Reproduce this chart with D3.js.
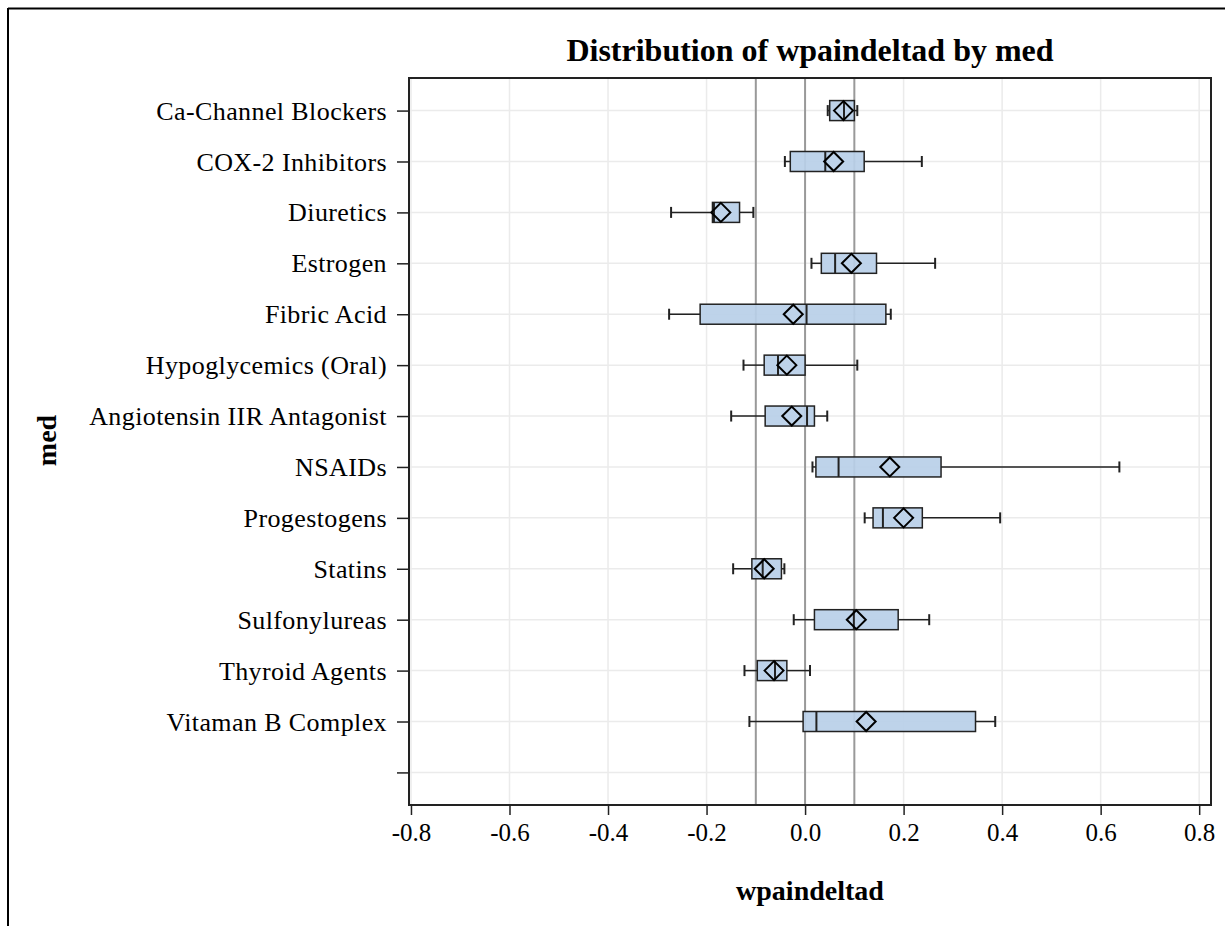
<!DOCTYPE html>
<html><head><meta charset="utf-8">
<script src="https://cdn.jsdelivr.net/npm/d3@7"></script>
<style>body{margin:0;background:#fff}</style>
</head><body>
<svg id="c" width="1225" height="926"></svg>
<script>
const categories = ["Ca-Channel Blockers","COX-2 Inhibitors","Diuretics","Estrogen","Fibric Acid","Hypoglycemics (Oral)","Angiotensin IIR Antagonist","NSAIDs","Progestogens","Statins","Sulfonylureas","Thyroid Agents","Vitaman B Complex",""];
const whiskerLow  = [0.046,-0.041,-0.272,0.013,-0.276,-0.125,-0.150,0.015,0.121,-0.146,-0.023,-0.123,-0.113];
const q1          = [0.050,-0.030,-0.188,0.033,-0.213,-0.083,-0.081,0.022,0.138,-0.108,0.019,-0.097,-0.004];
const median      = [0.079,0.041,-0.185,0.061,0.003,-0.055,0.004,0.068,0.158,-0.086,0.099,-0.061,0.023];
const q3          = [0.100,0.120,-0.133,0.145,0.164,0.000,0.019,0.276,0.238,-0.048,0.189,-0.037,0.346];
const whiskerHigh = [0.106,0.237,-0.105,0.264,0.174,0.106,0.045,0.638,0.396,-0.042,0.252,0.010,0.386];
const mean        = [0.078,0.058,-0.171,0.094,-0.024,-0.037,-0.027,0.172,0.200,-0.083,0.104,-0.063,0.124];
const xTicks = [-0.8,-0.6,-0.4,-0.2,0.0,0.2,0.4,0.6,0.8];
const xTickLabels = ["-0.8","-0.6","-0.4","-0.2","0.0","0.2","0.4","0.6","0.8"];
const refLines = [-0.1,0.0,0.1];

const svg = d3.select("#c");
const L=409, R=1211, T=78, B=805;
const x = d3.scaleLinear().domain([-0.804,0.824]).range([L,R]);
const y = d3.scalePoint().domain(categories.map((c,i)=>i)).range([T,B]).padding(0.64);

// outer frame (top + left)
svg.append("line").attr("x1",8).attr("x2",1225).attr("y1",8.5).attr("y2",8.5).attr("stroke","#000").attr("stroke-width",2);
svg.append("line").attr("x1",8).attr("x2",8).attr("y1",8).attr("y2",926).attr("stroke","#000").attr("stroke-width",2);

const serif = "'Liberation Serif','Times New Roman',serif";

// gridlines
svg.append("g").selectAll("line").data(xTicks).join("line")
  .attr("x1",d=>x(d)).attr("x2",d=>x(d)).attr("y1",T).attr("y2",B)
  .attr("stroke","#ebebeb").attr("stroke-width",1.5);
svg.append("g").selectAll("line").data(categories.map((c,i)=>i)).join("line")
  .attr("x1",L).attr("x2",R).attr("y1",d=>y(d)).attr("y2",d=>y(d))
  .attr("stroke","#ebebeb").attr("stroke-width",1.5);

// reference lines
svg.append("g").selectAll("line").data(refLines).join("line")
  .attr("x1",d=>x(d)).attr("x2",d=>x(d)).attr("y1",T).attr("y2",B)
  .attr("stroke","#999").attr("stroke-width",2);

// boxes
const idx = d3.range(whiskerLow.length);
const g = svg.append("g");
const bh = 20, ch = 11, dm = 9.5;
const ink = "#222";
idx.forEach(i=>{
  const cy = y(i);
  g.append("line").attr("x1",x(whiskerLow[i])).attr("x2",x(q1[i])).attr("y1",cy).attr("y2",cy).attr("stroke",ink).attr("stroke-width",1.5);
  g.append("line").attr("x1",x(q3[i])).attr("x2",x(whiskerHigh[i])).attr("y1",cy).attr("y2",cy).attr("stroke",ink).attr("stroke-width",1.5);
  [whiskerLow[i],whiskerHigh[i]].forEach(v=>{
    g.append("line").attr("x1",x(v)).attr("x2",x(v)).attr("y1",cy-ch/2).attr("y2",cy+ch/2).attr("stroke",ink).attr("stroke-width",2);
  });
  g.append("rect").attr("x",x(q1[i])).attr("y",cy-bh/2).attr("width",x(q3[i])-x(q1[i])).attr("height",bh)
    .attr("fill","#b8cfe8").attr("fill-opacity",0.92).attr("stroke",ink).attr("stroke-width",1.5);
  g.append("line").attr("x1",x(median[i])).attr("x2",x(median[i])).attr("y1",cy-bh/2).attr("y2",cy+bh/2).attr("stroke",ink).attr("stroke-width",2);
  const mx = x(mean[i]);
  g.append("path").attr("d",`M${mx-dm},${cy}L${mx},${cy-dm}L${mx+dm},${cy}L${mx},${cy+dm}Z`)
    .attr("fill","none").attr("stroke","#000").attr("stroke-width",2);
});

// frame of plot
svg.append("rect").attr("x",L).attr("y",T).attr("width",R-L).attr("height",B-T).attr("fill","none").attr("stroke","#222").attr("stroke-width",2);

// x axis
const xa = svg.append("g").attr("transform",`translate(0,${B})`)
  .call(d3.axisBottom(x).tickValues(xTicks).tickFormat((d,i)=>xTickLabels[i]).tickSize(10).tickPadding(8));
xa.select(".domain").remove();
xa.selectAll("line").attr("stroke","#222").attr("stroke-width",1.5);
xa.selectAll("text").attr("font-family",serif).attr("font-size",25).attr("fill","#000");

// y axis
const ya = svg.append("g").attr("transform",`translate(${L},0)`)
  .call(d3.axisLeft(y).tickFormat(i=>categories[i]).tickSize(12).tickPadding(10));
ya.select(".domain").remove();
ya.selectAll("line").attr("stroke","#222").attr("stroke-width",1.5);
ya.selectAll("text").attr("font-family",serif).attr("font-size",26).attr("letter-spacing","0.4px").attr("fill","#000").attr("dy","0.33em");

// titles
svg.append("text").attr("x",(L+R)/2).attr("y",61).attr("text-anchor","middle")
  .attr("font-family",serif).attr("font-weight","bold").attr("font-size",32).text("Distribution of wpaindeltad by med");
svg.append("text").attr("x",(L+R)/2).attr("y",900).attr("text-anchor","middle")
  .attr("font-family",serif).attr("font-weight","bold").attr("font-size",28).text("wpaindeltad");
svg.append("text").attr("transform",`translate(56,${(T+B)/2 - 1}) rotate(-90)`).attr("text-anchor","middle")
  .attr("font-family",serif).attr("font-weight","bold").attr("font-size",28).text("med");
</script>
</body></html>
